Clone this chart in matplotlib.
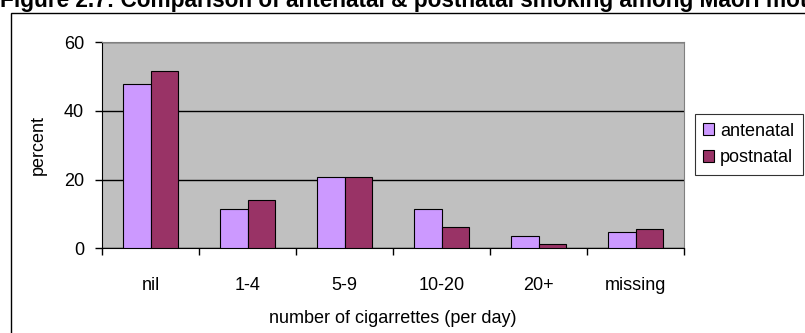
import matplotlib
matplotlib.use("Agg")
import matplotlib.pyplot as plt
from matplotlib.patches import Rectangle
import numpy as np

plt.rcParams['font.family'] = ['Liberation Sans', 'DejaVu Sans']

categories = ["nil", "1-4", "5-9", "10-20", "20+", "missing"]
antenatal = [48.0, 11.4, 20.7, 11.4, 3.7, 4.7]
postnatal = [51.7, 14.0, 20.7, 6.3, 1.2, 5.6]
series_names = ["antenatal", "postnatal"]
series_colors = ["#CC99FF", "#993366"]
y_ticks = [0, 20, 40, 60]
title = "Figure 2.7: Comparison of antenatal & postnatal smoking among Māori mothers"
xlabel = "number of cigarrettes (per day)"
ylabel = "percent"

W, H = 805, 333
fig = plt.figure(figsize=(W / 100, H / 100), dpi=100)

# outer chart frame
fig.patches.append(Rectangle((11 / W, -0.2), 1.2, 1 - 13 / H + 0.2,
                             transform=fig.transFigure, fill=False,
                             edgecolor="black", linewidth=1.0))

fig.text(0 / W, 1 - 6.5 / H, title, fontsize=16.3, fontweight="bold",
         ha="left", va="baseline")

ax = fig.add_axes([102 / W, 1 - 248.3 / H, (684 - 102) / W, (248.3 - 42.3) / H])
ax.set_facecolor("#C0C0C0")

x = np.arange(len(categories))
bw = 0.284
ax.bar(x - bw / 2, antenatal, bw, color=series_colors[0], edgecolor="black",
       linewidth=0.8, label=series_names[0], zorder=3)
ax.bar(x + bw / 2, postnatal, bw, color=series_colors[1], edgecolor="black",
       linewidth=0.8, label=series_names[1], zorder=3)

ax.set_xlim(-0.5, len(categories) - 0.5)
ax.set_ylim(0, 60)
ax.set_yticks(y_ticks)
ax.yaxis.grid(True, color="black", linewidth=1.0, zorder=1)
ax.set_axisbelow(True)

fs = 13
ax.set_xticks(np.arange(len(categories) + 1) - 0.5)
ax.set_xticklabels([])
ax.set_xticks(x, minor=True)
ax.set_xticklabels(categories, minor=True)
ax.tick_params(axis="x", which="major", length=5, width=1, direction="out")
ax.tick_params(axis="x", which="minor", length=0, pad=21, labelsize=fs)
ax.tick_params(axis="y", length=5, width=1, direction="out", labelsize=fs, pad=8)

for s in ("top", "right"):
    ax.spines[s].set_color("#808080")
for s in ("left", "bottom"):
    ax.spines[s].set_color("black")

ax.set_xlabel(xlabel, fontsize=fs, labelpad=11)
ax.set_ylabel(ylabel, fontsize=fs, labelpad=12)

leg = fig.legend(loc="center left", bbox_to_anchor=(695 / W, 1 - 144.5 / H),
                 fontsize=fs, frameon=True, fancybox=False, edgecolor="black",
                 handlelength=0.6, handleheight=0.6, handletextpad=0.35,
                 borderpad=0.45, labelspacing=0.55, borderaxespad=0)
leg.get_frame().set_linewidth(0.8)

fig.savefig("out.png", dpi=100)
